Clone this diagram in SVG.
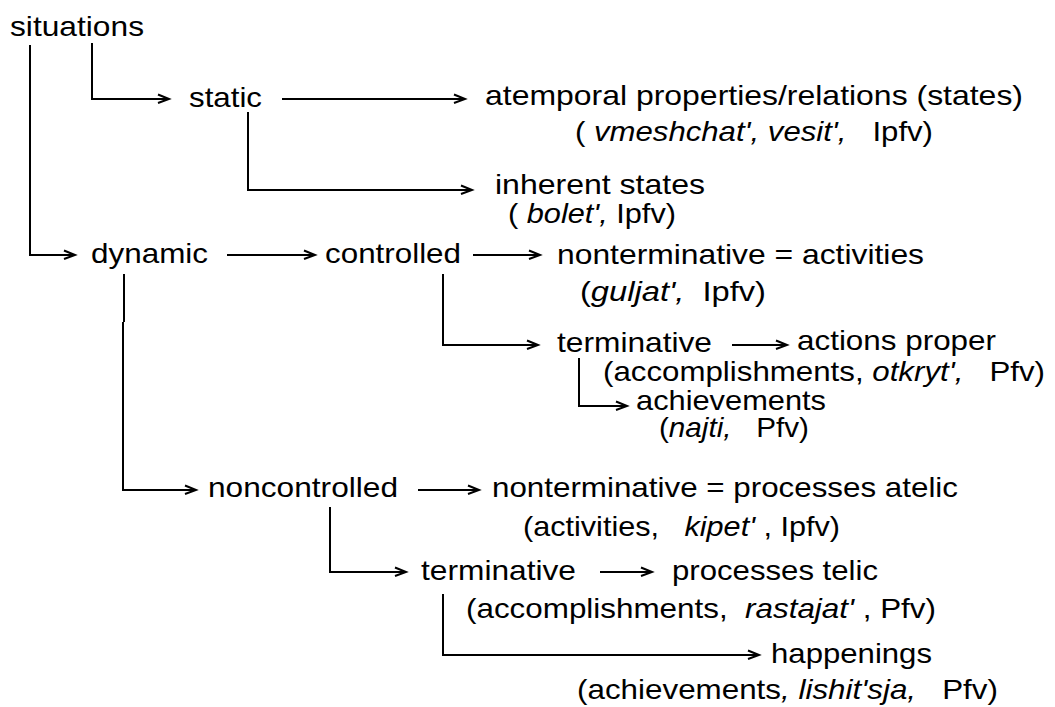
<svg xmlns="http://www.w3.org/2000/svg" width="1055" height="707" viewBox="0 0 1055 707">
<style>
text{font-family:"Liberation Sans",Arial,sans-serif;font-size:28px;fill:#000;white-space:pre}
.i{font-style:italic}
.c{fill:none;stroke:#000;stroke-width:2}
</style>
<defs>
<marker id="ah" markerUnits="userSpaceOnUse" markerWidth="14" markerHeight="12" refX="12" refY="6" orient="auto" overflow="visible">
<path d="M1,1.5 L12,6 L1,10" fill="none" stroke="#000" stroke-width="2"/>
</marker>
</defs>
<rect width="1055" height="707" fill="#fff"/>
<g id="connectors">
<path class="c" d="M92,43 V99 H169" marker-end="url(#ah)"/>
<path class="c" d="M30,45 V255 H75" marker-end="url(#ah)"/>
<path class="c" d="M282,99 H465" marker-end="url(#ah)"/>
<path class="c" d="M248,112 V190 H472" marker-end="url(#ah)"/>
<path class="c" d="M227,255 H315" marker-end="url(#ah)"/>
<path class="c" d="M473,255 H540" marker-end="url(#ah)"/>
<path class="c" d="M443,274 V345 H538" marker-end="url(#ah)"/>
<path class="c" d="M732,345 H787" marker-end="url(#ah)"/>
<path class="c" d="M579,358 V406 H627" marker-end="url(#ah)"/>
<path class="c" d="M124,274 V322"/>
<path class="c" d="M123,322 V490 H196" marker-end="url(#ah)"/>
<path class="c" d="M418,490 H479" marker-end="url(#ah)"/>
<path class="c" d="M330,507 V572 H406" marker-end="url(#ah)"/>
<path class="c" d="M600,572 H652" marker-end="url(#ah)"/>
<path class="c" d="M443,594 V655 H759" marker-end="url(#ah)"/>
</g>
<g id="situations"><text x="10" y="36" textLength="134" lengthAdjust="spacingAndGlyphs">situations</text></g>
<g id="static"><text x="189" y="107" textLength="73" lengthAdjust="spacingAndGlyphs">static</text></g>
<g id="atemporal">
<text x="485" y="105" textLength="538" lengthAdjust="spacingAndGlyphs">atemporal properties/relations (states)</text>
<text x="575" y="141" textLength="358" lengthAdjust="spacingAndGlyphs" xml:space="preserve">( <tspan class="i">vmeshchat', vesit',</tspan>   Ipfv)</text>
</g>
<g id="inherent">
<text x="495" y="194" textLength="210" lengthAdjust="spacingAndGlyphs">inherent states</text>
<text x="508" y="223" textLength="168" lengthAdjust="spacingAndGlyphs" xml:space="preserve">( <tspan class="i">bolet',</tspan> Ipfv)</text>
</g>
<g id="dynamic"><text x="91" y="263" textLength="117" lengthAdjust="spacingAndGlyphs">dynamic</text></g>
<g id="controlled"><text x="325" y="263" textLength="136" lengthAdjust="spacingAndGlyphs">controlled</text></g>
<g id="activities">
<text x="557" y="264" textLength="367" lengthAdjust="spacingAndGlyphs">nonterminative = activities</text>
<text x="580" y="301" textLength="186" lengthAdjust="spacingAndGlyphs" xml:space="preserve">(<tspan class="i">guljat',</tspan>  Ipfv)</text>
</g>
<g id="terminative1"><text x="557" y="352" textLength="155" lengthAdjust="spacingAndGlyphs">terminative</text></g>
<g id="actions">
<text x="797" y="350" textLength="199" lengthAdjust="spacingAndGlyphs">actions proper</text>
<text x="603" y="381" textLength="442" lengthAdjust="spacingAndGlyphs" xml:space="preserve">(accomplishments, <tspan class="i">otkryt',</tspan>   Pfv)</text>
</g>
<g id="achievements">
<text x="636" y="410" textLength="190" lengthAdjust="spacingAndGlyphs">achievements</text>
<text x="659" y="437" textLength="150" lengthAdjust="spacingAndGlyphs" xml:space="preserve">(<tspan class="i">najti,</tspan>   Pfv)</text>
</g>
<g id="noncontrolled"><text x="208" y="497" textLength="190" lengthAdjust="spacingAndGlyphs">noncontrolled</text></g>
<g id="processes-atelic">
<text x="492" y="497" textLength="466" lengthAdjust="spacingAndGlyphs">nonterminative = processes atelic</text>
<text x="523" y="536" textLength="317" lengthAdjust="spacingAndGlyphs" xml:space="preserve">(activities,   <tspan class="i">kipet'</tspan> , Ipfv)</text>
</g>
<g id="terminative2"><text x="421" y="580" textLength="155" lengthAdjust="spacingAndGlyphs">terminative</text></g>
<g id="processes-telic">
<text x="672" y="580" textLength="206" lengthAdjust="spacingAndGlyphs">processes telic</text>
<text x="466" y="618" textLength="470" lengthAdjust="spacingAndGlyphs" xml:space="preserve">(accomplishments,  <tspan class="i">rastajat'</tspan> , Pfv)</text>
</g>
<g id="happenings">
<text x="771" y="663" textLength="161" lengthAdjust="spacingAndGlyphs">happenings</text>
<text x="577" y="699" textLength="421" lengthAdjust="spacingAndGlyphs" xml:space="preserve">(achievements<tspan class="i">, lishit'sja,</tspan>   Pfv)</text>
</g>
</svg>
